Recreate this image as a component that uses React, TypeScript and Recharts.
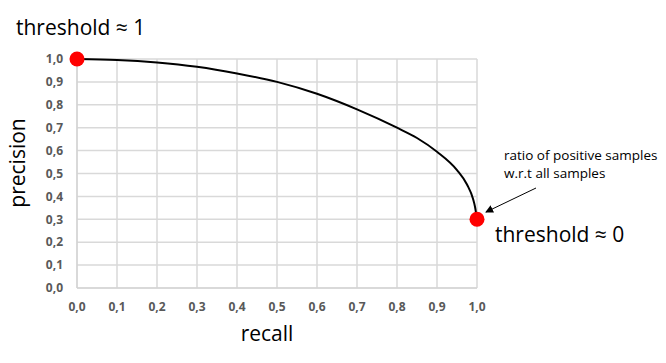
import {
  CartesianGrid,
  ComposedChart,
  Line,
  Scatter,
  XAxis,
  YAxis,
} from "recharts";

const recall = [0, 0.1, 0.2, 0.3, 0.4, 0.5, 0.6, 0.7, 0.8, 0.85, 0.9, 0.95, 0.975, 0.99, 0.995, 1.0];
const precision = [1.0, 0.996, 0.985, 0.966, 0.937, 0.9, 0.848, 0.78, 0.7, 0.655, 0.595, 0.515, 0.452, 0.39, 0.355, 0.3];

const endRecall = [0, 1];
const endPrecision = [1.0, 0.3];

const ticks = [0, 0.1, 0.2, 0.3, 0.4, 0.5, 0.6, 0.7, 0.8, 0.9, 1.0];

const curve = recall.map((r, i) => ({ recall: r, precision: precision[i] }));
const ends = endRecall.map((r, i) => ({ recall: r, precision: endPrecision[i] }));

const fmt = (v: number) => v.toFixed(1).replace(".", ",");
const font = "'Open Sans', sans-serif";
const tickStyle = { fill: "#595959", fontSize: 12, fontWeight: 700, fontFamily: font };

export default function App() {
  return (
    <div style={{ position: "absolute", left: 0, top: 0, width: 666, height: 363, background: "#fff" }}>
      <ComposedChart
        width={666}
        height={363}
        data={curve}
        margin={{ top: 59, right: 189, bottom: 45, left: 37 }}
      >
        <CartesianGrid stroke="#d9d9d9" strokeWidth={1.5} />
        <XAxis
          type="number"
          dataKey="recall"
          domain={[0, 1]}
          ticks={ticks}
          tickFormatter={fmt}
          stroke="#d0d0d0"
          tickLine={false}
          tickSize={6}
          tickMargin={8}
          height={30}
          tick={tickStyle}
          interval={0}
        />
        <YAxis
          type="number"
          dataKey="precision"
          domain={[0, 1]}
          ticks={ticks}
          tickFormatter={fmt}
          stroke="#d0d0d0"
          tickLine={false}
          tickSize={6}
          tickMargin={8}
          width={40}
          tick={tickStyle}
          interval={0}
        />
        <Line
          type="monotone"
          dataKey="precision"
          stroke="#000"
          strokeWidth={2}
          dot={false}
          isAnimationActive={false}
        />
        <Scatter
          data={ends}
          dataKey="precision"
          fill="#ff0000"
          shape={(p: any) => <circle cx={p.cx} cy={p.cy} r={7.5} fill="#ff0000" />}
          isAnimationActive={false}
        />
      </ComposedChart>
      <svg
        width={666}
        height={363}
        style={{ position: "absolute", left: 0, top: 0, pointerEvents: "none" }}
      >
        <defs>
          <marker id="head" markerWidth="8" markerHeight="8" refX="7" refY="4" orient="auto">
            <path d="M0,0 L8,4 L0,8 z" fill="#000" />
          </marker>
        </defs>
        <g fontFamily={font} fill="#000">
          <text x={16} y={35} fontSize={21}>threshold ≈ 1</text>
          <text x={495} y={242} fontSize={21}>threshold ≈ 0</text>
          <text x={267} y={341} fontSize={21} textAnchor="middle">recall</text>
          <text
            x={0}
            y={0}
            fontSize={21}
            textAnchor="middle"
            transform="translate(25,163) rotate(-90)"
          >
            precision
          </text>
          <text x={504} y={160} fontSize={13.5}>ratio of positive samples</text>
          <text x={504} y={178} fontSize={13.5}>w.r.t all samples</text>
        </g>
        <line x1={536} y1={188} x2={486} y2={212} stroke="#000" strokeWidth={1} markerEnd="url(#head)" />
      </svg>
    </div>
  );
}
